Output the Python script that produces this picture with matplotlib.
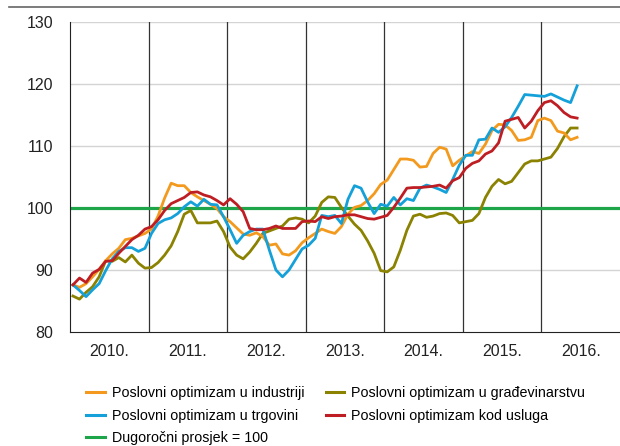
import numpy as np
import matplotlib
matplotlib.use("Agg")
import matplotlib.pyplot as plt
from matplotlib.lines import Line2D

plt.rcParams['font.family'] = ['Liberation Sans', 'DejaVu Sans']

years = ["2010.", "2011.", "2012.", "2013.", "2014.", "2015.", "2016."]

# monthly index values, Jan 2010 - Jun 2016
industry = [87.6, 87.2, 87.8, 88.9, 90.1, 91.5, 92.6, 93.5, 94.9, 95.1, 95.5, 95.9,
            96.6, 98.7, 101.6, 104.0, 103.6, 103.6, 102.5, 101.8, 101.2, 100.6, 99.9, 98.6,
            97.8, 96.8, 95.8, 95.6, 96.0, 95.4, 94.0, 94.2, 92.6, 92.4, 93.1, 94.4,
            95.2, 95.9, 96.6, 96.2, 95.9, 97.0, 99.0, 100.1, 100.4, 101.2, 102.3, 103.8,
            104.5, 106.2, 107.9, 107.9, 107.7, 106.6, 106.7, 108.8, 109.8, 109.5, 106.8, 107.7,
            108.4, 109.1, 108.8, 110.3, 112.5, 113.5, 113.4, 112.5, 110.9, 111.0, 111.4, 114.1,
            114.5, 114.1, 112.4, 112.1, 111.0, 111.4]
trade = [87.6, 86.7, 85.7, 86.8, 87.8, 89.9, 91.8, 93.0, 93.6, 93.6, 93.0, 93.5,
         95.9, 97.5, 98.1, 98.4, 99.1, 100.2, 101.0, 100.3, 101.4, 100.6, 100.5, 98.6,
         96.5, 94.3, 95.6, 96.2, 96.6, 96.6, 93.2, 90.0, 88.9, 90.0, 91.7, 93.4,
         94.0, 95.1, 98.8, 98.6, 98.8, 97.5, 101.4, 103.6, 103.2, 101.0, 99.1, 100.6,
         100.3, 101.7, 100.5, 101.5, 101.2, 103.2, 103.7, 103.4, 103.0, 102.5, 104.6, 106.9,
         108.5, 108.5, 111.0, 111.1, 112.9, 112.2, 113.1, 114.6, 116.4, 118.3, 118.2, 118.1,
         118.0, 118.4, 117.9, 117.4, 117.0, 119.7]
construction = [85.8, 85.3, 86.4, 87.3, 88.9, 91.5, 91.4, 92.0, 91.3, 92.4, 91.1, 90.3,
                90.4, 91.2, 92.4, 93.9, 96.2, 99.0, 99.6, 97.6, 97.6, 97.6, 97.9, 96.2,
                93.7, 92.4, 91.8, 92.9, 94.3, 95.9, 96.3, 96.7, 97.1, 98.2, 98.4, 98.2,
                97.6, 98.7, 100.9, 101.8, 101.7, 100.1, 98.7, 97.4, 96.4, 94.7, 92.7, 89.9,
                89.7, 90.5, 93.2, 96.4, 98.7, 99.0, 98.5, 98.7, 99.1, 99.2, 98.8, 97.6,
                97.8, 98.0, 99.1, 101.7, 103.5, 104.6, 103.9, 104.3, 105.7, 107.1, 107.6, 107.6,
                107.9, 108.2, 109.6, 111.5, 112.9, 112.9]
services = [87.6, 88.7, 88.0, 89.5, 90.1, 91.4, 91.5, 92.7, 93.8, 94.9, 95.6, 96.6,
            97.0, 98.1, 99.6, 100.7, 101.2, 101.7, 102.5, 102.6, 102.1, 101.8, 101.2, 100.5,
            101.5, 100.6, 99.4, 96.7, 96.5, 96.5, 96.7, 97.1, 96.7, 96.7, 96.7, 97.8,
            97.9, 97.8, 98.6, 98.3, 98.6, 98.7, 98.9, 98.9, 98.6, 98.3, 98.2, 98.5,
            98.8, 100.1, 101.6, 103.2, 103.3, 103.3, 103.4, 103.5, 103.7, 103.2, 104.4, 104.9,
            106.4, 107.2, 107.6, 108.7, 109.2, 110.5, 114.0, 114.3, 114.6, 112.9, 114.0, 115.7,
            117.0, 117.3, 116.5, 115.4, 114.7, 114.5]
long_run_avg = 100

labels = ["Poslovni optimizam u industriji", "Poslovni optimizam u trgovini",
          "Dugoročni prosjek = 100", "Poslovni optimizam u građevinarstvu",
          "Poslovni optimizam kod usluga"]

c_ind = "#f39a1e"
c_trade = "#14a0d8"
c_green = "#1ea54a"
c_con = "#8a8200"
c_serv = "#be1e23"

fig = plt.figure(figsize=(6.2, 4.46), dpi=100)
ax = fig.add_axes([70 / 620, 1 - 332 / 446, 550 / 620, 310 / 446])

months = np.arange(len(industry)) + 0.45
n_months = 12 * len(years)

for v in [90, 110, 120, 130]:
    ax.axhline(v, color="#d4d4d4", lw=1.0, zorder=1)
for k in range(1, len(years)):
    ax.axvline(12 * k, color="#333333", lw=0.9, zorder=1)

ax.axhline(long_run_avg, color=c_green, lw=2.3, zorder=2)
ax.plot(months, construction, color=c_con, lw=2.0, zorder=3)
ax.plot(months, industry, color=c_ind, lw=2.0, zorder=3)
ax.plot(months, trade, color=c_trade, lw=2.0, zorder=4)
ax.plot(months, services, color=c_serv, lw=2.0, zorder=5)

ax.set_xlim(0, n_months)
ax.set_ylim(80, 130)
ax.set_yticks([80, 90, 100, 110, 120, 130])
ax.set_xticks([12 * k + 6 for k in range(len(years))])
ax.set_xticklabels(years)
ax.tick_params(axis="both", length=0, labelsize=11.5, colors="#222222")
ax.tick_params(axis="y", pad=12)
ax.tick_params(axis="x", pad=9)
for s in ["top", "right"]:
    ax.spines[s].set_visible(False)
ax.spines["left"].set_color("#222222")
ax.spines["bottom"].set_color("#222222")

# grey rule at the top of the figure
fig.add_artist(Line2D([9 / 620, 1], [1 - 7 / 446, 1 - 7 / 446], color="#666666", lw=1.2))

handles = [Line2D([], [], color=c, lw=2.2) for c in [c_ind, c_trade, c_green, c_con, c_serv]]
fig.legend(handles, labels, ncol=2, loc="upper left", bbox_to_anchor=(86 / 620, 1 - 386 / 446),
           frameon=False, fontsize=10.3, handlelength=1.3, handletextpad=0.5,
           labelspacing=0.6, columnspacing=1.5, borderpad=0, borderaxespad=0)

fig.savefig("out.png", dpi=100)
